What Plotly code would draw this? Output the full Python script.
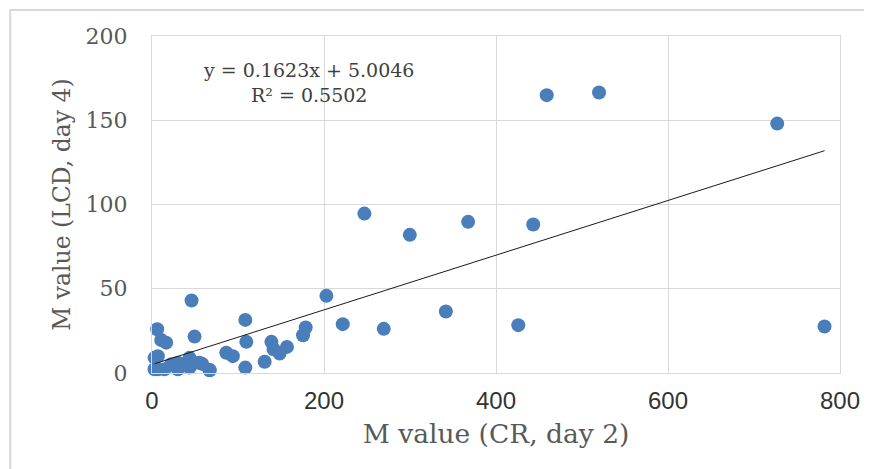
import plotly.graph_objects as go

# M value (CR, day 2)
x_cr = [3, 3, 6, 6.8, 6.8, 10.7, 14.5, 16.5, 22.4, 30, 30, 35.9, 43.7, 43.7, 46,
        49.5, 49.5, 55.3, 58.4, 67, 67, 86.4, 94, 108.5, 109.7, 108.5, 131,
        138.8, 141.4, 148.4, 156.9, 175.6, 178.7, 202.8, 221.8, 247, 269.5,
        299.8, 341.7, 367.6, 425.9, 443.3, 459, 519.8, 727, 782]
# M value (LCD, day 4)
y_lcd = [9, 2.2, 26, 10, 2.2, 19.6, 2.2, 18, 5.2, 6.1, 2.2, 5.2, 9, 3.2, 43,
         21.6, 6.1, 6.1, 5.4, 1.8, 1.6, 12, 10, 31.5, 18.5, 3.2, 6.7,
         18.5, 14.1, 11.5, 15.5, 22.4, 27, 45.8, 29, 94.6, 26.2,
         82, 36.5, 89.7, 28.4, 88.1, 164.9, 166.5, 148, 27.6]

slope = 0.1623
intercept = 5.0046
r2 = 0.5502

x_ticks = [0, 200, 400, 600, 800]
y_ticks = [0, 50, 100, 150, 200]

x_min, x_max = min(x_cr), max(x_cr)

fig = go.Figure()
fig.add_trace(go.Scatter(
    x=x_cr, y=y_lcd, mode="markers", cliponaxis=False,
    marker=dict(color="#4A7EBB", size=14, line=dict(width=0)),
    showlegend=False))
fig.add_trace(go.Scatter(
    x=[x_min, x_max], y=[slope * x_min + intercept, slope * x_max + intercept],
    mode="lines", line=dict(color="#1a1a1a", width=1), hoverinfo="skip",
    showlegend=False))

fig.add_annotation(
    x=0.228, y=0.863, xref="paper", yref="paper", xanchor="center", yanchor="middle",
    text=f"y = {slope}x + {intercept}<br>R² = {r2}", showarrow=False,
    font=dict(family="DejaVu Serif", size=19, color="#404040"), align="center")

fig.add_shape(type="rect", xref="paper", yref="paper",
              x0=-0.206, x1=1.2, y0=-0.5, y1=1.077,
              line=dict(color="#d9d9d9", width=2), layer="below")

fig.update_layout(
    width=872, height=469,
    margin=dict(l=144, r=40, t=28, b=104),
    paper_bgcolor="white", plot_bgcolor="white",
    xaxis=dict(
        range=[0, 800], tickvals=x_ticks, ticktext=[str(v) for v in x_ticks],
        showgrid=True, gridcolor="#d9d9d9", gridwidth=1,
        showline=True, linecolor="#d9d9d9", mirror=True, zeroline=False,
        ticks="", ticklabelstandoff=6,
        tickfont=dict(family="Liberation Sans Narrow, Arial Narrow, sans-serif", size=24, color="#333333"),
        title=dict(text="M value (CR, day 2)", standoff=11,
                   font=dict(family="DejaVu Serif", size=26.5, color="#595959")),
    ),
    yaxis=dict(
        range=[0, 200], tickvals=y_ticks, ticktext=[str(v) for v in y_ticks],
        showgrid=True, gridcolor="#d9d9d9", gridwidth=1,
        showline=True, linecolor="#d9d9d9", mirror=True, zeroline=False,
        ticks="", ticklabelstandoff=19,
        tickfont=dict(family="DejaVu Serif", size=22, color="#595959"),
        title=dict(text="M value (LCD, day 4)", standoff=8,
                   font=dict(family="DejaVu Serif", size=23.5, color="#595959")),
    ),
)

fig.write_html("out.html")
